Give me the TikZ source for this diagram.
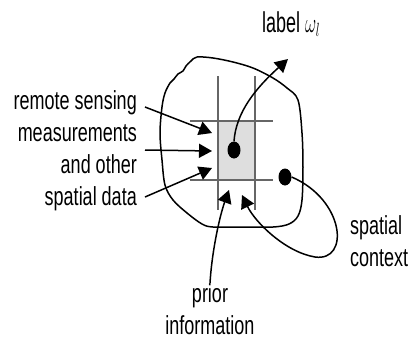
\documentclass[tikz,border=0pt]{standalone}
\usepackage{fontspec}
\setmainfont{Liberation Sans}
\usetikzlibrary{arrows.meta,shapes.geometric}
\definecolor{cellgray}{HTML}{DEDEDE}
\definecolor{gridgray}{HTML}{666666}

\begin{document}
\begin{tikzpicture}[x=1pt, y=-1pt,
      txt/.style={inner sep=0pt, yscale=1.45, font=\fontsize{18}{22}\selectfont},
      grd/.style={draw=gridgray, line width=1.2pt},
      arr/.style={-{Triangle[length=13pt, width=14pt]}, line width=1.5pt},
      dot/.style={ellipse, fill=black, inner sep=0pt, minimum width=13pt, minimum height=17pt},
    ]
    \useasboundingbox (0,0) rectangle (408,341);

    % centre cell and grid
    \fill[cellgray] (218,121) rectangle (255,180);
    \draw[grd] (218,76) -- (218,210);
    \draw[grd] (255,76) -- (255,210);
    \draw[grd] (190,121) -- (273,121);
    \draw[grd] (190,180) -- (273,180);

    % image region
    \draw[line width=1.5pt] plot[smooth cycle, tension=0.55] coordinates {
      (197,57) (213,58) (233,62) (253,68) (273,78) (287,88) (298,100)
      (302,133) (303,167) (302,200) (298,216) (289,224) (273,227)
      (240,227) (213,227) (202,224) (187,213) (173,200) (165,185)
      (162,160) (160,133) (162,107) (165,93) (170,83) (174,79)
      (178,74) (183,71) (186,66) (191,61)};

    \node[dot] (pix) at (234,150) {};
    \node[dot] (nbr) at (285,177) {};

    \node[txt, align=right, anchor=east] (rs) at (137,151)
      {remote sensing\\measurements\\and other\\spatial data};
    \node[txt, align=left, anchor=west] (ctx) at (350,241)
      {spatial\\context};
    \node[txt, align=center] (prior) at (210,309)
      {prior\\information};
    \node[txt, anchor=base west, yscale=1.1] (lbl) at (262,32)
      {label $\omega_l$};

    \coordinate (rsA) at (145,107);
    \coordinate (rsB) at (145,150);
    \coordinate (rsC) at (145,197);
    \coordinate (inA) at (212,133);
    \coordinate (inB) at (212,151);
    \coordinate (inC) at (212,168);
    \coordinate (lblTip) at (288,59);
    \coordinate (prTip) at (229,190);
    \coordinate (ctxTip) at (242,195);
    \coordinate (loop) at (315,257);

    \draw[arr] (rsA) -- (inA);
    \draw[arr] (rsB) -- (inB);
    \draw[arr] (rsC) -- (inC);
    \draw[arr] (pix.north) .. controls (236,112) and (256,88) .. (lblTip);
    \draw[arr] (prior.north) .. controls (212,250) and (220,215) .. (prTip);
    \draw[arr] (nbr.east) .. controls (345,200) and (350,262) .. (loop)
      .. controls (285,252) and (255,222) .. (ctxTip);
  \end{tikzpicture}
\end{document}
